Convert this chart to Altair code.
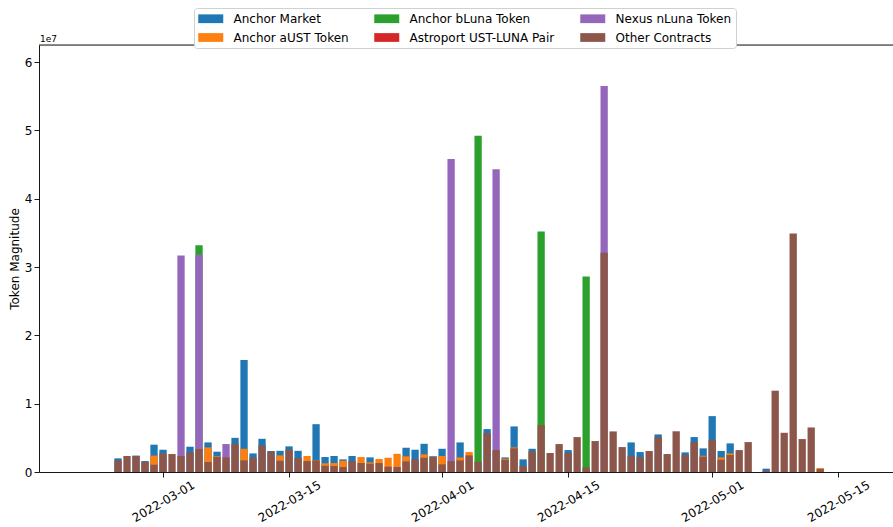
import altair as alt
import pandas as pd

# Daily dates covered by the bars (2022-02-24 .. 2022-05-13)
dates = pd.date_range("2022-02-24", "2022-05-13", freq="D").strftime("%Y-%m-%d").tolist()

# Daily token magnitude per contract group, in millions (None = no transfers that day)
anchor_market = [
    2.0, None, 2.4, 1.6, 4.0, 3.26, None, None, 3.7, None,
    4.33, 2.97, None, 5.0, 16.4, 2.72, 4.86, 3.07, 3.1, 3.75,
    3.1, None, 7.0, 2.19, 2.34, 1.85, 2.34, None, 2.14, None,
    None, None, 3.55, 3.26, 4.13, 2.3, 3.4, None, 4.33, None,
    None, 6.28, None, 2.14, 6.67, 1.85, 3.4, None, None, None,
    3.21, None, None, None, None, None, None, 4.33, 2.92, None,
    5.5, None, None, 2.87, 5.11, 3.46, 8.18, 3.07, 4.19, None,
    None, None, 0.49, None, None, None, None, None, None,
]
anchor_aust = [
    None, None, None, None, 2.4, None, None, None, None, None,
    3.6, 2.3, None, None, 3.4, None, None, None, 2.43, None,
    None, 2.34, 1.75, 1.27, 1.31, 1.65, None, 2.19, 1.41, 1.9,
    2.09, 2.67, 2.29, None, 2.58, None, 2.34, None, 2.14, 2.92,
    None, None, None, 1.95, 3.6, None, None, None, None, None,
    None, None, None, None, None, None, None, None, None, None,
    None, None, None, None, None, 2.38, None, 2.14, 2.72, None,
    None, None, None, None, None, None, None, None, 0.58,
]
anchor_bluna = [
    None, None, None, None, None, None, None, None, None, 33.2,
    None, None, None, None, None, None, None, None, None, None,
    None, None, None, None, None, None, None, None, None, None,
    None, None, None, None, None, None, None, None, None, None,
    49.2, None, None, None, None, None, None, 35.2, None, None,
    None, None, 28.6, None, None, None, None, None, None, None,
    None, None, None, None, None, None, None, None, None, None,
    None, None, None, None, None, None, None, None, None,
]
astroport_pair = [None] * len(dates)
nexus_nluna = [
    None, None, None, None, None, None, None, 31.7, None, 31.8,
    None, None, 4.09, None, None, None, None, None, None, None,
    None, None, None, None, None, None, None, None, None, None,
    None, None, None, None, None, None, None, 45.8, None, None,
    None, None, 44.3, None, None, None, None, None, None, None,
    None, None, None, None, 56.5, None, None, None, None, None,
    None, None, None, None, None, None, None, None, None, None,
    None, None, None, None, None, None, None, None, None,
]
other_contracts = [
    1.7, 2.34, 2.35, 1.5, 1.07, 2.72, 2.63, 2.34, 2.87, 3.36,
    1.46, 2.19, 2.14, 4.13, 1.7, 2.1, 3.85, 2.97, 1.65, 3.26,
    2.04, 1.6, 1.7, 0.92, 0.88, 0.73, 1.6, 1.31, 1.21, 1.31,
    0.78, 0.73, 1.56, 1.85, 2.09, 2.24, 1.12, 1.6, 1.7, 2.43,
    1.5, 5.69, 3.21, 1.8, 3.46, 0.88, 3.02, 6.86, 2.77, 4.09,
    2.77, 5.11, 0.68, 4.53, 32.1, 5.94, 3.65, 2.38, 2.14, 3.07,
    5.11, 2.63, 5.96, 2.48, 4.38, 2.24, 4.72, 1.8, 2.48, 3.21,
    4.38, None, 0.2, 11.9, 5.74, 34.9, 4.82, 6.52, 0.44,
]

# Drawing order: each later series is painted over the earlier ones
series_names = [
    "Anchor Market", "Anchor aUST Token", "Anchor bLuna Token",
    "Astroport UST-LUNA Pair", "Nexus nLuna Token", "Other Contracts",
]
series_values = [
    anchor_market, anchor_aust, anchor_bluna,
    astroport_pair, nexus_nluna, other_contracts,
]
series_colors = ["#1f77b4", "#ff7f0e", "#2ca02c", "#d62728", "#9467bd", "#8c564b"]

rows = []
for z, (name, vals) in enumerate(zip(series_names, series_values)):
    for d, v in zip(dates, vals):
        if v is not None:
            rows.append({"date": d, "series": name, "value": v, "z": z})
df = pd.DataFrame(rows)

x_ticks = ["2022-03-01", "2022-03-15", "2022-04-01", "2022-04-15", "2022-05-01", "2022-05-15"]
y_ticks = [0, 10, 20, 30, 40, 50, 60]

W, H = 854, 427
FONT = "DejaVu Sans"
FS = 12

def utc(s, h=0, m=0):
    y, mo, d = (int(p) for p in s.split("-"))
    return alt.DateTime(year=y, month=mo, date=d, hours=h, minutes=m, utc=True)

bars = alt.Chart(df).mark_bar(size=7.3).encode(
    x=alt.X(
        "date:T",
        scale=alt.Scale(type="utc", domain=[utc("2022-02-15", 18, 43), utc("2022-05-20", 12, 43)], nice=False),
        axis=alt.Axis(
            values=[utc(t) for t in x_ticks],
            labelExpr="utcFormat(datum.value, '%Y-%m-%d')",
            title=None, grid=False, labelAngle=-30, labelAlign="center",
            labelBaseline="middle", labelPadding=24, tickSize=5,
            labelFontSize=FS, labelColor="black", labelFont=FONT,
            domainColor="black", tickColor="black", domainWidth=0.9, tickWidth=0.9,
        ),
    ),
    y=alt.Y(
        "value:Q", stack=None,
        scale=alt.Scale(domain=[0, 62.5], nice=False, zero=True),
        axis=alt.Axis(
            values=y_ticks, labelExpr="format(datum.value / 10, 'd')",
            title="Token Magnitude", titleFontSize=FS, titleFontWeight="normal",
            titleColor="black", titleFont=FONT, titlePadding=3,
            grid=False, tickSize=5, labelPadding=2, labelFontSize=FS,
            labelColor="black", labelFont=FONT,
            domainColor="black", tickColor="black", domainWidth=0.9, tickWidth=0.9,
        ),
    ),
    color=alt.Color(
        "series:N",
        scale=alt.Scale(domain=series_names, range=series_colors),
        legend=alt.Legend(
            title=None, orient="none", legendX=155, legendY=-37, columns=3,
            columnPadding=25, rowPadding=6, padding=4,
            symbolType="M-1,-0.7H3V0.7H-1Z", symbolSize=156.25,
            symbolStrokeWidth=0, symbolOpacity=1,
            labelFontSize=FS, labelFont=FONT, labelColor="black",
            labelOffset=22.5, labelLimit=300,
            fillColor="white", strokeColor="#d0d0d0", cornerRadius=3, zindex=1,
        ),
    ),
    order=alt.Order("z:Q"),
)

frame = pd.DataFrame({"k": [0]})
top_spine = alt.Chart(frame).mark_rule(color="black", strokeWidth=0.9).encode(
    x=alt.value(0), x2=alt.value(W), y=alt.value(0)
)
exponent = alt.Chart(frame).mark_text(
    text="1e7", align="left", baseline="bottom", fontSize=9, font=FONT, color="black"
).encode(x=alt.value(1), y=alt.value(-1))

chart = alt.layer(bars, top_spine, exponent).properties(
    width=W, height=H,
    padding={"left": 39, "top": 45, "right": 0, "bottom": 55},
    autosize=alt.AutoSizeParams(type="none"),
).configure_view(stroke=None).configure(font=FONT, background="white")

chart.save("out.html", embed_options={"renderer": "svg", "actions": False})
